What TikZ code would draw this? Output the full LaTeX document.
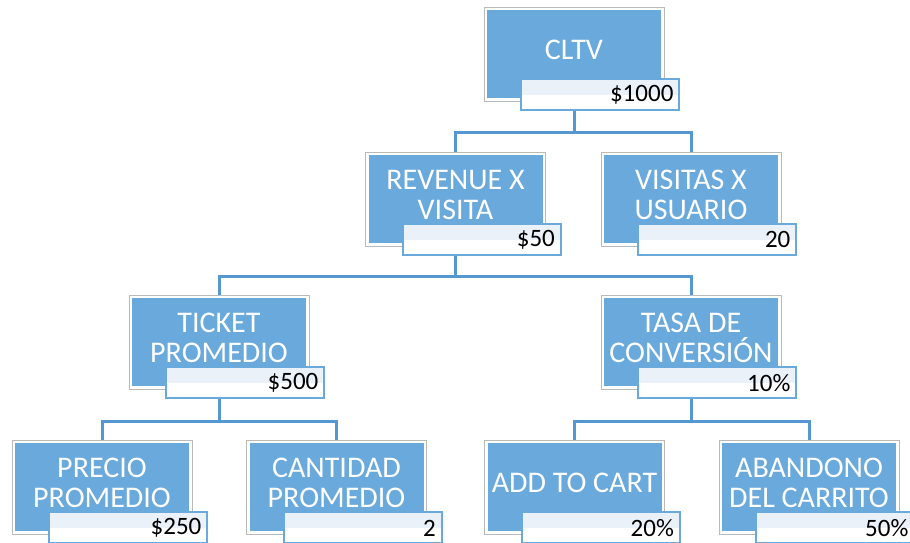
\documentclass[tikz,border=0pt]{standalone}
\usepackage{fontspec}
\setmainfont{Carlito}
\definecolor{boxblue}{HTML}{69A9DC}
\definecolor{connblue}{HTML}{5597D0}
\definecolor{lbltop}{HTML}{EAF1F9}
\begin{document}
\begin{tikzpicture}[x=1pt,y=-1pt,
  mainbox/.style={draw=gray!55, line width=0.8pt, fill=white,
    minimum width=180pt, minimum height=94pt, inner sep=0pt,
    align=center, text=white, font=\fontsize{30}{30}\selectfont, text depth=8pt,
    path picture={\fill[boxblue] ([shift={(3pt,3pt)}]path picture bounding box.south west)
      rectangle ([shift={(-3pt,-3pt)}]path picture bounding box.north east);}},
  valbox/.style={draw=boxblue, line width=2pt, fill=white,
    minimum width=158pt, minimum height=31pt, text width=146pt, inner xsep=6pt, inner ysep=0pt,
    align=right, text=black, font=\fontsize{25}{26}\selectfont,
    path picture={\fill[lbltop] (path picture bounding box.north west)
      rectangle (path picture bounding box.east);}},
  conn/.style={draw=connblue, line width=3pt}
]
\useasboundingbox (0,0) rectangle (910,542);
\coordinate (h1) at (0,132);
\coordinate (h2) at (0,276);
\coordinate (h3) at (0,421);

\node[mainbox] (cltv) at (574,54) {CLTV};
\node[mainbox] (rev) at (455.5,199) {REVENUE X\\VISITA};
\node[mainbox] (vis) at (691,199) {VISITAS X\\USUARIO};
\node[mainbox] (tick) at (219,342) {TICKET\\PROMEDIO};
\node[mainbox] (tasa) at (691,342) {TASA DE\\CONVERSIÓN};
\node[mainbox] (prec) at (102,487) {PRECIO\\PROMEDIO};
\node[mainbox] (cant) at (336.5,487) {CANTIDAD\\PROMEDIO};
\node[mainbox] (add) at (574.5,487) {ADD TO CART};
\node[mainbox] (aban) at (809,487) {ABANDONO\\DEL CARRITO};

\draw[conn] (rev.north) -- (rev.north |- h1) -- (vis.north |- h1) -- (vis.north);
\draw[conn] (cltv.south) -- (cltv.south |- h1);
\draw[conn] (tick.north) -- (tick.north |- h2) -- (tasa.north |- h2) -- (tasa.north);
\draw[conn] (rev.south) -- (rev.south |- h2);
\draw[conn] (prec.north) -- (prec.north |- h3) -- (cant.north |- h3) -- (cant.north);
\draw[conn] (tick.south) -- (tick.south |- h3);
\draw[conn] (add.north) -- (add.north |- h3) -- (aban.north |- h3) -- (aban.north);
\draw[conn] (tasa.south) -- (tasa.south |- h3);

\node[valbox, anchor=south east] (cltv-v) at ([shift={(16pt,-10pt)}]cltv.south east) {\$1000};
\node[valbox, anchor=south east] (rev-v) at ([shift={(16pt,-10pt)}]rev.south east) {\$50};
\node[valbox, anchor=south east] (vis-v) at ([shift={(16pt,-10pt)}]vis.south east) {20};
\node[valbox, anchor=south east] (tick-v) at ([shift={(16pt,-10pt)}]tick.south east) {\$500};
\node[valbox, anchor=south east] (tasa-v) at ([shift={(16pt,-10pt)}]tasa.south east) {10\%};
\node[valbox, anchor=south east] (prec-v) at ([shift={(16pt,-10pt)}]prec.south east) {\$250};
\node[valbox, anchor=south east] (cant-v) at ([shift={(16pt,-10pt)}]cant.south east) {2};
\node[valbox, anchor=south east] (add-v) at ([shift={(16pt,-10pt)}]add.south east) {20\%};
\node[valbox, anchor=south east] (aban-v) at ([shift={(16pt,-10pt)}]aban.south east) {50\%};
\end{tikzpicture}
\end{document}
